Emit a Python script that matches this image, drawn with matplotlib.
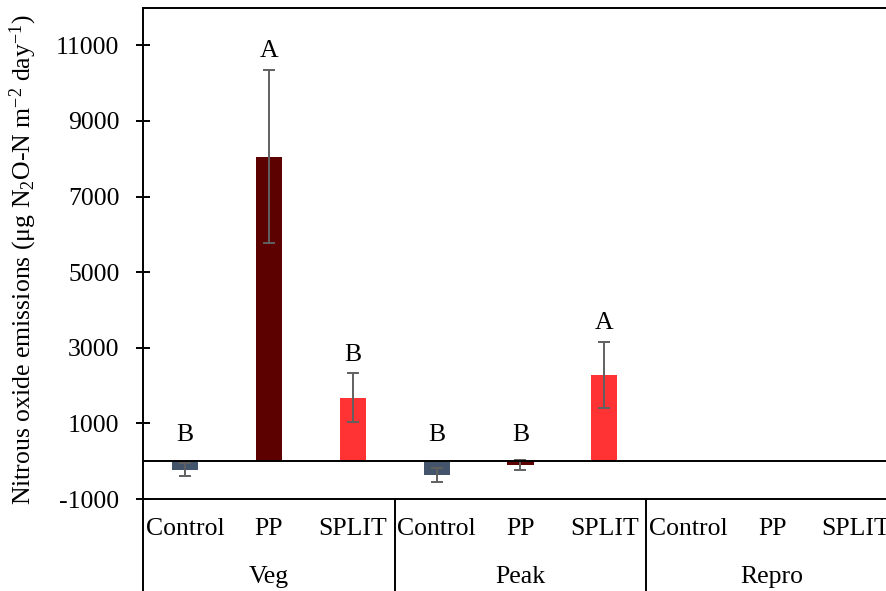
import matplotlib
matplotlib.use('Agg')
import matplotlib.pyplot as plt
import matplotlib.transforms as mtransforms
import numpy as np

plt.rcParams['font.family'] = ['Liberation Serif', 'DejaVu Serif']
plt.rcParams['mathtext.fontset'] = 'custom'
plt.rcParams['mathtext.rm'] = 'Liberation Serif'
plt.rcParams['mathtext.it'] = 'Liberation Serif:italic'
plt.rcParams['axes.unicode_minus'] = False

# N2O emissions by growth stage and treatment
stages = ['Veg', 'Peak', 'Repro']
treatments = ['Control', 'PP', 'SPLIT']
means = [-220, 8050, 1680,
         -370, -100, 2280,
         np.nan, np.nan, np.nan]
errors = [170, 2290, 640,
          185, 130, 870,
          np.nan, np.nan, np.nan]
letters = ['B', 'A', 'B', 'B', 'B', 'A', '', '', '']
colors = {'Control': '#44546A', 'PP': '#5C0000', 'SPLIT': '#FF3333'}

fs = 18.5

fig = plt.figure(figsize=(8.87, 5.91), dpi=100)
ax = fig.add_axes([143 / 887, 1 - 499 / 591, 755 / 887, 491.5 / 591])

x = np.arange(len(means))
bar_colors = [colors[treatments[i % 3]] for i in range(len(means))]
ax.bar(x, means, width=0.31, color=bar_colors, zorder=2)
ax.errorbar(x, means, yerr=errors, fmt='none', ecolor='#606060',
            elinewidth=1.4, capsize=4.5, capthick=1.4, zorder=3)

# significance letters above each bar
for xi, m, e, lab in zip(x, means, errors, letters):
    if lab:
        top = max(m + e, 200)
        ax.text(xi, top + 500, lab, ha='center', va='center', fontsize=fs)

ax.axhline(0, color='black', lw=1.4, zorder=4)
ax.set_xlim(-0.5, 8.5)
ax.set_ylim(-1000, 12000)
ax.set_yticks(np.arange(-1000, 12000, 2000))
ax.tick_params(axis='y', direction='inout', length=10, width=1.4,
               labelsize=fs, pad=12)
ax.set_xticks([])
for side in ['left', 'top', 'bottom']:
    ax.spines[side].set_linewidth(1.4)
ax.spines['right'].set_visible(False)

ax.set_ylabel('Nitrous oxide emissions (μg N$_2$O-N m$^{-2}$ day$^{-1}$)',
              fontsize=fs)
ax.yaxis.set_label_coords(-0.138, 0.486)

# two-level category axis below the plot
trans = mtransforms.blended_transform_factory(ax.transData, ax.transAxes)
for i in range(len(means)):
    ax.text(i, -0.061, treatments[i % 3], transform=trans, ha='center',
            va='center', fontsize=fs)
for g, stage in enumerate(stages):
    ax.text(g * 3 + 1, -0.158, stage, transform=trans, ha='center',
            va='center', fontsize=fs)
    ax.plot([g * 3 - 0.5, g * 3 - 0.5], [0, -0.2], transform=trans,
            color='black', lw=1.4, clip_on=False)

fig.savefig('out.png', dpi=100)
